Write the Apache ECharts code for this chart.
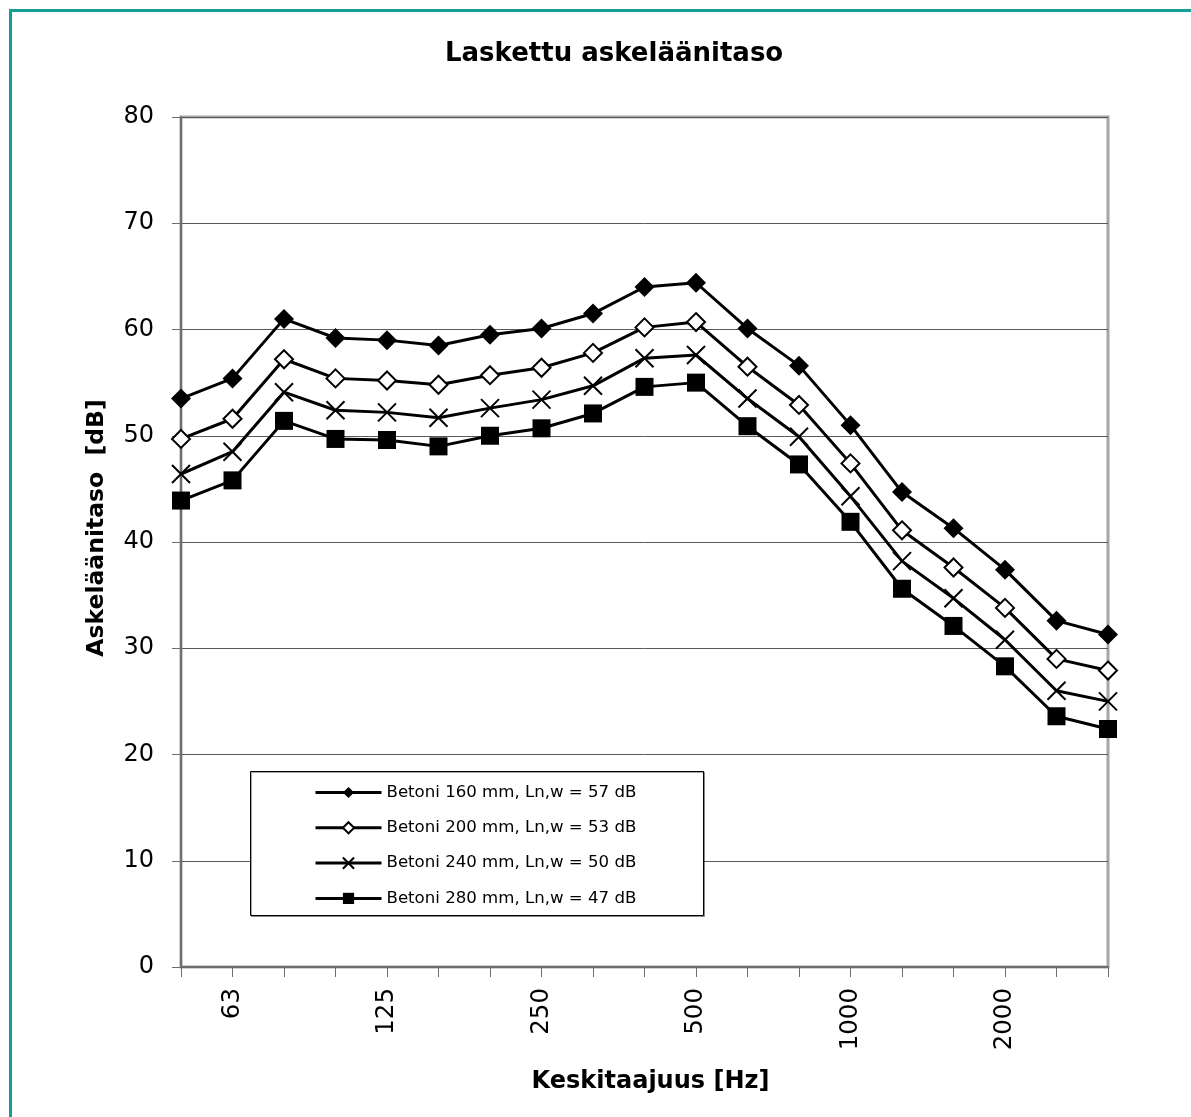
<!DOCTYPE html>
<html>
<head>
<meta charset="utf-8">
<script src="https://cdn.jsdelivr.net/npm/echarts@6/dist/echarts.min.js"></script>
<style>
html,body{margin:0;padding:0;background:#fff;}
#frame{position:absolute;left:9px;top:9px;width:1200px;height:1200px;border-left:3px solid #139e96;border-top:3px solid #139e96;}
#chart{position:absolute;left:0;top:0;width:1191px;height:1117px;}
</style>
</head>
<body>
<div id="frame"></div>
<div id="chart"></div>
<script>
const categories = ['50','63','80','100','125','160','200','250','315','400','500','630','800','1000','1250','1600','2000','2500','3150'];
const seriesNames = [
  'Betoni 160 mm, Ln,w = 57 dB',
  'Betoni 200 mm, Ln,w = 53 dB',
  'Betoni 240 mm, Ln,w = 50 dB',
  'Betoni 280 mm, Ln,w = 47 dB'
];
const betoni160 = [53.5, 55.4, 61.0, 59.2, 59.0, 58.5, 59.5, 60.1, 61.5, 64.0, 64.4, 60.1, 56.6, 51.0, 44.7, 41.3, 37.4, 32.6, 31.3];
const betoni200 = [49.7, 51.6, 57.2, 55.4, 55.2, 54.8, 55.7, 56.4, 57.8, 60.2, 60.7, 56.5, 52.9, 47.4, 41.1, 37.6, 33.8, 29.0, 27.9];
const betoni240 = [46.4, 48.5, 54.1, 52.4, 52.2, 51.7, 52.6, 53.4, 54.7, 57.3, 57.6, 53.5, 49.9, 44.3, 38.2, 34.7, 30.8, 26.0, 25.0];
const betoni280 = [43.9, 45.8, 51.4, 49.7, 49.6, 49.0, 50.0, 50.7, 52.1, 54.6, 55.0, 50.9, 47.3, 41.9, 35.6, 32.1, 28.3, 23.6, 22.4];
const yTicks = [0, 10, 20, 30, 40, 50, 60, 70, 80];

const FONT = 'DejaVu Sans';
const chart = echarts.init(document.getElementById('chart'), null, {renderer: 'canvas'});

function mk(name, data, symbol, size, fill, bw) {
  return {
    name: name, type: 'line', data: data,
    symbol: symbol, symbolSize: size, showSymbol: true,
    lineStyle: {color: '#000', width: 3},
    itemStyle: {color: fill, borderColor: '#000', borderWidth: bw},
    emphasis: {disabled: true},
    animation: false, z: 3
  };
}

chart.setOption({
  animation: false,
  backgroundColor: 'transparent',
  title: {
    text: 'Laskettu askeläänitaso',
    left: 440, top: 36,
    textStyle: {fontFamily: FONT, fontWeight: 'bold', fontSize: 26, color: '#000'}
  },
  grid: {
    left: 181, right: 83, top: 117, bottom: 150,
    show: true, borderColor: '#a6a6a6', borderWidth: 3, backgroundColor: 'transparent'
  },
  graphic: [{
    type: 'rect', left: 250, top: 771, z: 10,
    shape: {width: 453, height: 144},
    style: {fill: '#fff', stroke: '#000', lineWidth: 1, shadowColor: 'rgba(0,0,0,0.35)', shadowOffsetX: 1, shadowOffsetY: 1}
  }],
  legend: {
    orient: 'vertical', left: 309, top: 779, z: 20,
    itemWidth: 66, itemHeight: 14, itemGap: 18.3,
    data: seriesNames,
    lineStyle: {width: 3, color: '#000'},
    textStyle: {fontFamily: FONT, fontSize: 16.6, color: '#000'},
    selectedMode: false
  },
  xAxis: {
    type: 'category', data: categories, boundaryGap: false,
    axisLine: {lineStyle: {color: '#6e6e6e', width: 2}},
    axisTick: {show: true, interval: 0, length: 10, lineStyle: {color: '#6e6e6e', width: 1}},
    axisLabel: {
      interval: function (i) { return i % 3 === 1; },
      rotate: 90, margin: 21, fontFamily: FONT, fontSize: 24.5, color: '#000'
    },
    splitLine: {show: false},
    name: 'Keskitaajuus [Hz]', nameLocation: 'middle', nameGap: 103,
    nameTextStyle: {fontFamily: FONT, fontWeight: 'bold', fontSize: 24, color: '#000', padding: [0, 0, 0, 12]}
  },
  yAxis: {
    type: 'value', min: yTicks[0], max: yTicks[yTicks.length - 1], interval: 10,
    axisLine: {show: true, lineStyle: {color: '#6e6e6e', width: 2}},
    axisTick: {show: true, length: 9, lineStyle: {color: '#6e6e6e', width: 1}},
    axisLabel: {margin: 27, fontFamily: FONT, fontSize: 24, color: '#000'},
    splitLine: {show: true, lineStyle: {color: '#5a5a5a', width: 1}},
    name: 'Askeläänitaso  [dB]', nameLocation: 'middle', nameGap: 72, nameRotate: 90,
    nameTextStyle: {fontFamily: FONT, fontWeight: 'bold', fontSize: 23.5, color: '#000', padding: [0, 0, 0, 28]}
  },
  series: [
    mk(seriesNames[0], betoni160, 'diamond', 20, '#000', 0),
    mk(seriesNames[1], betoni200, 'diamond', 18, '#fff', 2),
    mk(seriesNames[2], betoni240, 'path://M0,0L10,10M10,0L0,10', 18, 'none', 2),
    mk(seriesNames[3], betoni280, 'rect', 18, '#000', 0)
  ]
});
</script>
</body>
</html>
